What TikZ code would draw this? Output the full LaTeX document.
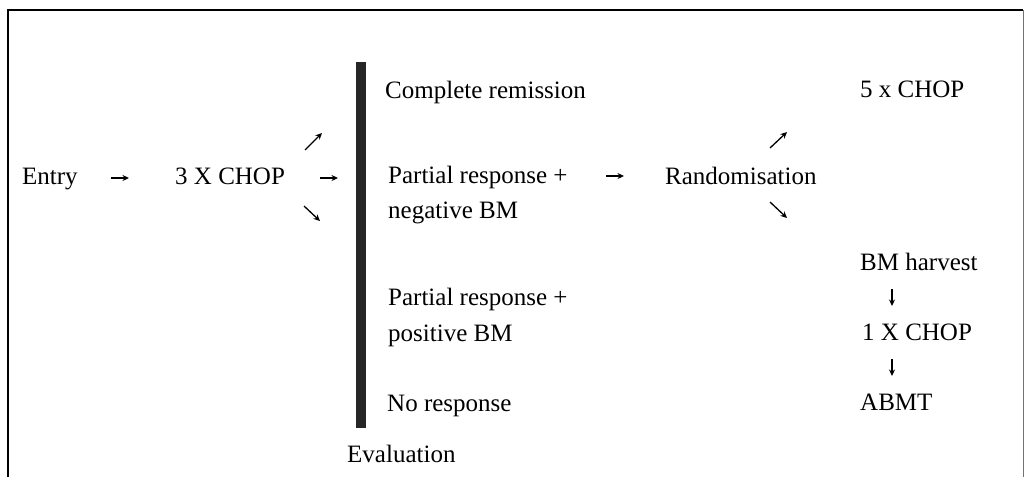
\documentclass[tikz,border=0pt]{standalone}
\usepackage{fontspec}
\setmainfont{Liberation Serif}
\usetikzlibrary{arrows.meta}
\begin{document}
\begin{tikzpicture}[x=1pt,y=-1pt,
  txt/.style={anchor=base west,inner sep=0pt,font=\fontsize{25}{30}\selectfont},
  arr/.style={-{Stealth[length=6.5pt,width=6pt]},line width=1.3pt},
  frame/.style={line width=1.5pt},
  evalbar/.style={fill=black!85,draw=none}]
\useasboundingbox (0,0) rectangle (1025,477);
% frame (open at the bottom)
\draw[frame] (8,477) -- (8,10) -- (1023,10);
\draw[line width=1pt,black!55] (1023,10) -- (1023,477);
% evaluation bar
\path[evalbar] (356,62) rectangle (366,428);
% texts
\node[txt] (entry) at (22,184) {Entry};
\node[txt] (chop3) at (175,184) {3 X CHOP};
\node[txt] (cr) at (385,98) {Complete remission};
\node[txt] (prn1) at (388,183) {Partial response +};
\node[txt] (prn2) at (388,218) {negative BM};
\node[txt] (prp1) at (388,305) {Partial response +};
\node[txt] (prp2) at (388,341) {positive BM};
\node[txt] (nr) at (387,411) {No response};
\node[txt] (eval) at (347,462) {Evaluation};
\node[txt] (rand) at (665,184) {Randomisation};
\node[txt] (chop5) at (860,97) {5 x CHOP};
\node[txt] (bmh) at (860,270) {BM harvest};
\node[txt] (chop1) at (862,340) {1 X CHOP};
\node[txt] (abmt) at (860,410) {ABMT};
% arrow end points
\coordinate (a1s) at (111,178); \coordinate (a1e) at (129,178);
\coordinate (a2s) at (320,178); \coordinate (a2e) at (338,178);
\coordinate (a3s) at (305,150); \coordinate (a3e) at (322,133);
\coordinate (a4s) at (304,206); \coordinate (a4e) at (320,221);
\coordinate (a5s) at (606,176); \coordinate (a5e) at (624,176);
\coordinate (a6s) at (770,148); \coordinate (a6e) at (787,132);
\coordinate (a7s) at (770,202); \coordinate (a7e) at (787,218);
\coordinate (a8s) at (892,289); \coordinate (a8e) at (892,306);
\coordinate (a9s) at (892,359); \coordinate (a9e) at (892,376);
\foreach \i in {1,...,9} {\draw[arr] (a\i s) -- (a\i e);}
\end{tikzpicture}
\end{document}
